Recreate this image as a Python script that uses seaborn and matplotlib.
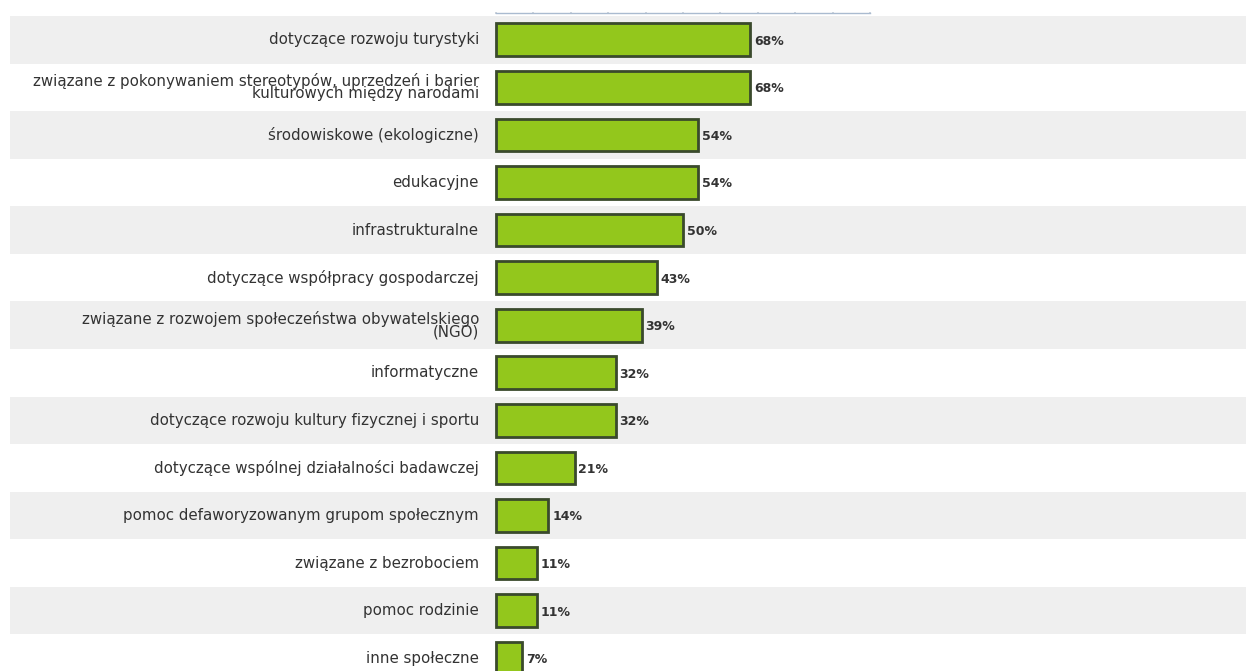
import matplotlib
matplotlib.use("Agg")
import matplotlib.pyplot as plt
import seaborn as sns
import pandas as pd

categories = [
    "dotyczące rozwoju turystyki",
    "związane z pokonywaniem stereotypów, uprzedzeń i barier\nkulturowych między narodami",
    "środowiskowe (ekologiczne)",
    "edukacyjne",
    "infrastrukturalne",
    "dotyczące współpracy gospodarczej",
    "związane z rozwojem społeczeństwa obywatelskiego\n(NGO)",
    "informatyczne",
    "dotyczące rozwoju kultury fizycznej i sportu",
    "dotyczące wspólnej działalności badawczej",
    "pomoc defaworyzowanym grupom społecznym",
    "związane z bezrobociem",
    "pomoc rodzinie",
    "inne społeczne",
]
values = [68, 68, 54, 54, 50, 43, 39, 32, 32, 21, 14, 11, 11, 7]
value_labels = [f"{v}%" for v in values]

df = pd.DataFrame({"cat": categories, "val": values})

sns.set_theme(style="white")
plt.rcParams["font.family"] = ["DejaVu Sans"]

W, H = 1246, 671
fig = plt.figure(figsize=(W / 100, H / 100), dpi=100)
# axes spans x 10..1246 px, y 16..682 px (bottom cut off)
left_px, right_px, top_px, bot_px = 10, 1246, 16, 682
ax = fig.add_axes([left_px / W, 1 - bot_px / H, (right_px - left_px) / W, (bot_px - top_px) / H])

x0_px, x100_px = 496, 870
ppu = (x100_px - x0_px) / 100.0
xmin = -(x0_px - left_px) / ppu
xmax = (right_px - x0_px) / ppu

n = len(categories)
for i in range(n):
    if i % 2 == 0:
        ax.axhspan(i - 0.5, i + 0.5, color="#efefef", zorder=0, lw=0)

sns.barplot(data=df, x="val", y="cat", orient="h", ax=ax, color="#93c71c",
            edgecolor="#3a4a2c", linewidth=2.0, width=0.69, saturation=1, zorder=2)

ax.set_xlim(xmin, xmax)
ax.set_ylim(n - 0.5, -0.5)
ax.set_xlabel("")
ax.set_ylabel("")
ax.set_yticks([])

label_x = -(x0_px - 479) / ppu
for i, (c, v, vl) in enumerate(zip(categories, values, value_labels)):
    ax.text(label_x, i, c, ha="right", va="center", fontsize=10.8, color="#333333",
            linespacing=0.74, zorder=3)
    ax.text(v + 1.0, i + 0.03, vl, ha="left", va="center", fontsize=9, color="#333333",
            fontweight="bold", zorder=3)

for s in ["left", "right", "bottom"]:
    ax.spines[s].set_visible(False)
ax.spines["top"].set_bounds(0, 100)
ax.spines["top"].set_color("#aabbd0")
ax.spines["top"].set_linewidth(1.0)
ax.spines["top"].set_position(("outward", 2))
ax.xaxis.tick_top()
ax.set_xticks(range(0, 101, 10))
ax.tick_params(axis="x", length=2, direction="inout", color="#c8d0da", labeltop=False,
               labelbottom=False, top=True, bottom=False)

fig.savefig("out.png", dpi=100, facecolor="white")
